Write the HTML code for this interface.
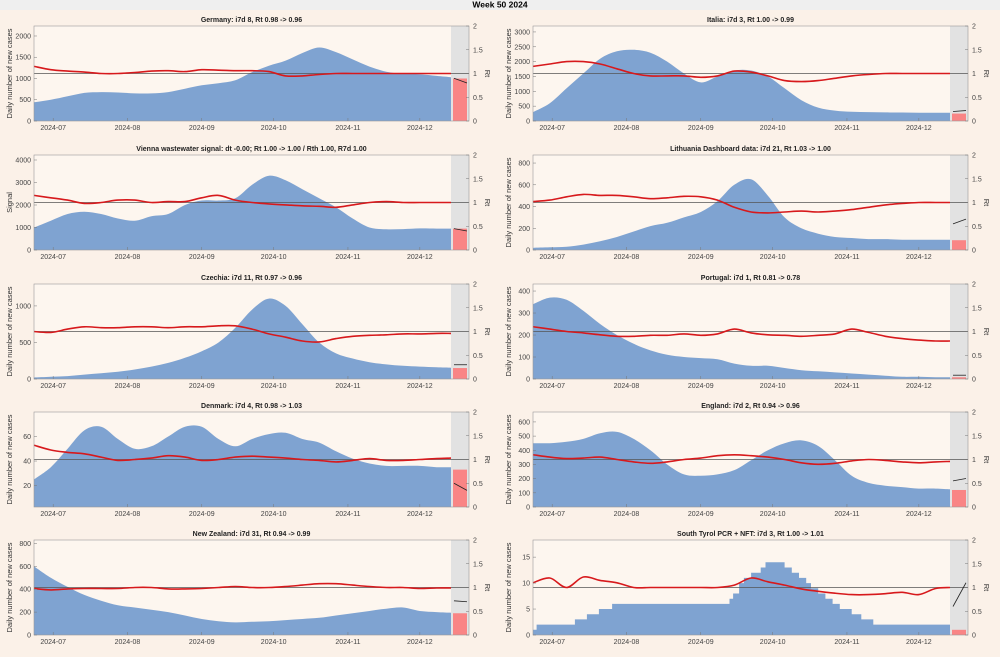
<!DOCTYPE html>
<html><head><meta charset="utf-8"><style>
body{margin:0;background:#fbf1e8;}
svg{display:block;font-family:"Liberation Sans",sans-serif;}
</style></head><body>
<svg id="fig" width="1000" height="657" viewBox="0 0 1000 657">
<rect x="0" y="0" width="1000" height="657" fill="#fbf1e8"/>
<rect x="0" y="0" width="1000" height="10" fill="#efefef"/>
<text x="500" y="7.5" font-size="8.5" font-weight="bold" text-anchor="middle">Week 50 2024</text>
</svg>
<script>
const titles=["Germany: i7d 8, Rt 0.98 -> 0.96","Italia: i7d 3, Rt 1.00 -> 0.99","Vienna wastewater signal: dt -0.00; Rt 1.00 -> 1.00 / Rth 1.00, R7d 1.00","Lithuania Dashboard data: i7d 21, Rt 1.03 -> 1.00","Czechia: i7d 11, Rt 0.97 -> 0.96","Portugal: i7d 1, Rt 0.81 -> 0.78","Denmark: i7d 4, Rt 0.98 -> 1.03","England: i7d 2, Rt 0.94 -> 0.96","New Zealand: i7d 31, Rt 0.94 -> 0.99","South Tyrol PCR + NFT: i7d 3, Rt 1.00 -> 1.01"];
const yLabels=["Daily number of new cases","Daily number of new cases","Signal","Daily number of new cases","Daily number of new cases","Daily number of new cases","Daily number of new cases","Daily number of new cases","Daily number of new cases","Daily number of new cases"];
const yMin=[0,0,0,0,0,0,2.5,0,0,0];
const yMax=[2235,3200,4222,874,1300,432,80,670,830,18.3];
const yTicks=[[0,500,1000,1500,2000],[0,500,1000,1500,2000,2500,3000],[0,1000,2000,3000,4000],[0,200,400,600,800],[0,500,1000],[0,100,200,300,400],[20,40,60],[0,100,200,300,400,500,600],[0,200,400,600,800],[0,5,10,15]];
const sampleDays=[0,7,14,21,28,35,42,49,56,63,70,77,84,91,98,105,112,119,126,133,140,147,154,161,168,174];
const cases=[
[440,500,580,660,680,670,650,650,680,760,840,890,960,1150,1300,1420,1600,1730,1620,1450,1280,1160,1110,1100,1060,1030],
[300,600,1100,1600,2100,2350,2400,2300,2000,1600,1300,1500,1700,1700,1500,1100,700,450,350,310,300,290,285,280,280,280],
[1000,1300,1600,1700,1600,1400,1300,1500,1600,2000,2200,2200,2300,2900,3300,3100,2700,2300,1900,1400,1000,920,930,960,950,950],
[20,25,30,50,80,120,170,220,250,300,350,450,600,650,500,300,200,150,120,110,100,100,95,95,95,95],
[20,30,40,60,80,100,130,170,220,290,380,500,700,950,1100,1000,750,500,350,280,230,200,180,170,160,155],
[340,370,360,310,250,200,160,130,110,100,95,90,70,60,60,50,40,35,30,25,20,15,10,10,8,8],
[25,35,50,65,68,58,50,52,60,68,68,58,52,58,62,63,58,55,48,42,38,36,36,36,35,35],
[450,450,460,480,520,530,480,400,300,230,220,230,260,330,400,450,470,430,330,220,170,150,140,130,130,125],
[600,500,420,350,300,260,240,220,200,170,140,120,110,115,120,130,140,150,170,190,210,230,240,210,200,195],
null];
// South Tyrol is a step series
const tyrolDays=[0,1.5,17.5,22.5,27.5,33,82,83.5,86,88,91,95,97,105,108,111,114,116,119,122,125,128,133,137,142,155,174];
const tyrolCases=[1,2,3,4,5,6,7,8,10,11,12,13,14,13,12,11,10,9,8,7,6,5,4,3,2,2,2];
const rt=[
[1.15,1.08,1.05,1.03,1.0,1.0,1.02,1.05,1.06,1.04,1.08,1.07,1.06,1.06,1.04,0.95,0.95,0.98,1.0,1.0,1.0,1.0,1.0,1.0,1.0,1.0],
[1.15,1.2,1.25,1.25,1.2,1.1,1.0,0.95,0.95,0.95,0.92,0.95,1.05,1.03,0.95,0.85,0.83,0.85,0.9,0.95,0.98,1.0,1.0,1.0,1.0,1.0],
[1.15,1.1,1.05,0.98,1.0,1.05,1.05,1.0,1.02,1.02,1.1,1.15,1.05,1.0,0.97,0.95,0.93,0.92,0.9,0.95,1.0,1.02,1.0,1.0,1.0,1.0],
[1.02,1.05,1.12,1.17,1.15,1.15,1.12,1.08,1.1,1.13,1.12,1.05,0.9,0.8,0.78,0.8,0.82,0.8,0.82,0.85,0.9,0.95,0.98,1.0,1.0,1.0],
[1.0,0.98,1.05,1.1,1.08,1.08,1.1,1.1,1.08,1.1,1.1,1.12,1.12,1.05,0.95,0.88,0.8,0.78,0.85,0.9,0.92,0.93,0.95,0.95,0.96,0.96],
[1.1,1.05,1.0,0.97,0.93,0.9,0.9,0.92,0.92,0.95,0.92,0.95,1.05,0.97,0.93,0.92,0.9,0.92,0.95,1.05,0.98,0.9,0.85,0.82,0.8,0.8],
[1.3,1.2,1.15,1.12,1.05,0.98,1.0,1.03,1.08,1.05,0.98,1.0,1.05,1.07,1.05,1.03,1.0,0.98,0.95,0.98,1.02,0.98,0.98,1.0,1.02,1.03],
[1.1,1.05,1.02,1.03,1.05,1.0,0.95,0.92,0.95,1.0,1.03,1.08,1.1,1.08,1.05,1.0,0.93,0.9,0.92,0.97,1.0,0.98,0.95,0.93,0.95,0.96],
[0.98,0.95,0.97,0.98,0.98,0.98,1.0,1.0,0.97,0.97,0.98,1.0,1.02,1.0,1.0,1.02,1.05,1.08,1.08,1.05,1.02,1.0,1.0,0.98,0.99,0.99],
[1.1,1.2,1.0,1.22,1.15,1.1,1.0,1.0,1.0,1.0,1.0,1.0,1.05,1.2,1.12,1.05,0.97,0.92,0.88,0.85,0.85,0.87,0.9,0.85,0.98,1.0]];
const forecastCases=[1000,250,950,90,150,8,33,120,190,1];
const forecastRtStart=[0.9,0.2,0.45,0.55,0.3,0.08,0.5,0.55,0.72,0.6];
const forecastRtEnd=[0.8,0.22,0.4,0.65,0.3,0.08,0.35,0.6,0.7,1.1];
const monthLabels=["2024-07","2024-08","2024-09","2024-10","2024-11","2024-12"];
const monthDays=[8,39,70,100,131,161];
const rtTicks=[0,0.5,1,1.5,2];

const NS="http://www.w3.org/2000/svg";
const fig=document.getElementById('fig');
function mk(tag,attrs,parent,txt){const e=document.createElementNS(NS,tag);for(const k in attrs)e.setAttribute(k,attrs[k]);if(txt!==undefined)e.textContent=txt;(parent||fig).appendChild(e);return e;}
function smooth(pts){let d="M"+pts[0][0]+","+pts[0][1];for(let i=0;i<pts.length-1;i++){const p0=pts[Math.max(0,i-1)],p1=pts[i],p2=pts[i+1],p3=pts[Math.min(pts.length-1,i+2)];const c1=[p1[0]+(p2[0]-p0[0])/6,p1[1]+(p2[1]-p0[1])/6],c2=[p2[0]-(p3[0]-p1[0])/6,p2[1]-(p3[1]-p1[1])/6];d+="C"+c1[0].toFixed(1)+","+c1[1].toFixed(1)+" "+c2[0].toFixed(1)+","+c2[1].toFixed(1)+" "+p2[0].toFixed(1)+","+p2[1].toFixed(1);}return d;}
const colX=[34,533],rowY=[26,155,284,412,540],W=417,H=95,EW=18,DAYS=174;
for(let i=0;i<10;i++){
  const x0=colX[i%2],y0=rowY[Math.floor(i/2)];
  const g=mk('g',{});
  
  
  const xs=d=>x0+d/DAYS*W;
  const ys=v=>y0+H-(Math.max(v,yMin[i])-yMin[i])/(yMax[i]-yMin[i])*H;
  const yr=r=>y0+H-r/2*H;
  mk('rect',{x:x0,y:y0,width:W,height:H,fill:'#fdf6ef'},g);
  mk('rect',{x:x0+W,y:y0,width:EW,height:H,fill:'#e2e2e2'},g);
  let ad;
  if(cases[i]){
    const pts=sampleDays.map((d,k)=>[xs(d),ys(cases[i][k])]);
    ad=smooth(pts)+"L"+xs(DAYS)+","+(y0+H)+"L"+x0+","+(y0+H)+"Z";
  } else {
    ad="M"+x0+","+(y0+H);
    tyrolDays.forEach((d,k)=>{const nx=k+1<tyrolDays.length?tyrolDays[k+1]:DAYS;ad+="L"+xs(d).toFixed(1)+","+ys(tyrolCases[k]).toFixed(1)+"L"+xs(nx).toFixed(1)+","+ys(tyrolCases[k]).toFixed(1);});
    ad+="L"+xs(DAYS)+","+(y0+H)+"Z";
  }
  const area=mk('path',{d:ad,fill:'#7fa3d1'},g);
  
  
  const fb=mk('rect',{x:x0+W+2,y:ys(forecastCases[i]),width:EW-4,height:y0+H-ys(forecastCases[i]),fill:'#f98585'},g);
  
  
  mk('line',{x1:x0,x2:x0+W+EW,y1:yr(1),y2:yr(1),stroke:'#555','stroke-width':0.7},g);
  const rpts=sampleDays.map((d,k)=>[xs(d),yr(rt[i][k])]);
  const rl=mk('path',{d:smooth(rpts),fill:'none',stroke:'#d7191c','stroke-width':1.6},g);
  
  
  const fl=mk('line',{x1:x0+W+3,x2:x0+W+EW-2,y1:yr(forecastRtStart[i]),y2:yr(forecastRtEnd[i]),stroke:'#222','stroke-width':0.8},g);
  
  
  mk('rect',{x:x0,y:y0,width:W+EW,height:H,fill:'none',stroke:'#999','stroke-width':0.6},g);
  yTicks[i].forEach(t=>{const y=ys(t);mk('line',{x1:x0,x2:x0+3,y1:y,y2:y,stroke:'#777','stroke-width':0.5},g);const tx=mk('text',{x:x0-3,y:y+2.5,'font-size':7,fill:'#444','text-anchor':'end'},g,String(t));});
  rtTicks.forEach(t=>{const y=yr(t);mk('line',{x1:x0+W+EW-3,x2:x0+W+EW,y1:y,y2:y,stroke:'#777','stroke-width':0.5},g);const tx=mk('text',{x:x0+W+EW+4,y:y+2.5,'font-size':7,fill:'#444'},g,String(t));});
  monthDays.forEach((d,k)=>{const x=xs(d);mk('line',{x1:x,x2:x,y1:y0+H,y2:y0+H-3,stroke:'#777','stroke-width':0.5},g);const tx=mk('text',{x:x,y:y0+H+9,'font-size':7,fill:'#444','text-anchor':'middle'},g,monthLabels[k]);});
  const tt=mk('text',{x:x0+(W+EW)/2,y:y0-4,'font-size':7,'font-weight':'bold','text-anchor':'middle',fill:'#222'},g,titles[i]);
  
  
  const yl=mk('text',{x:0,y:0,'font-size':7.5,fill:'#333','text-anchor':'middle',transform:`translate(${x0-22},${y0+H/2}) rotate(-90)`},g,yLabels[i]);
  
  
  const rlab=mk('text',{x:0,y:0,'font-size':7.5,fill:'#333','text-anchor':'middle',transform:`translate(${x0+W+EW+16},${y0+H/2}) rotate(90)`},g,'Rt');
  
  
}
</script>
</body></html>
